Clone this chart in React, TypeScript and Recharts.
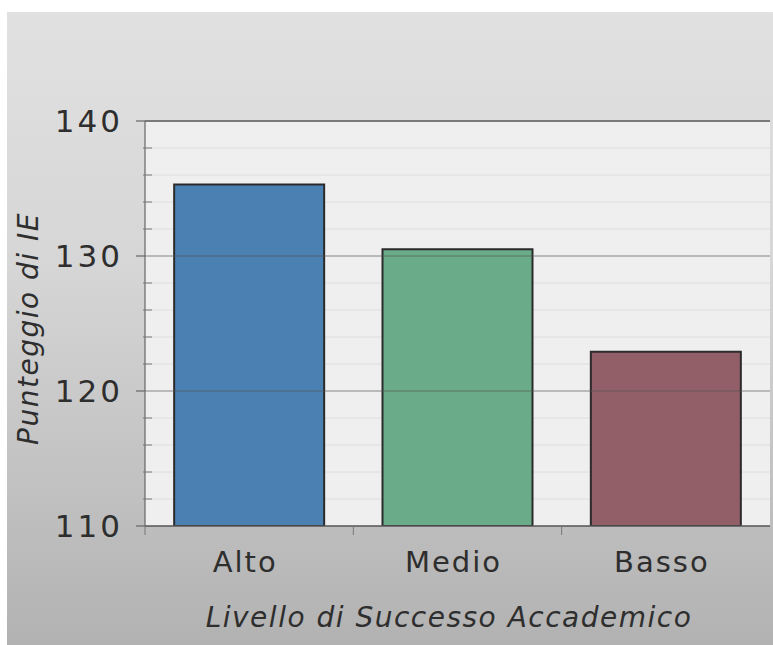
import { BarChart, Bar, XAxis, YAxis, CartesianGrid, ReferenceLine, Cell, Label } from 'recharts';

const categories = ['Alto', 'Medio', 'Basso'];
const scores = [135.3, 130.5, 122.9];
const barColors = ['#4b80b3', '#6aac89', '#925e67'];
const majorTicks = [110, 120, 130, 140];
const minorTicks = [112, 114, 116, 118, 122, 124, 126, 128, 132, 134, 136, 138];
const allTicks = [110, 112, 114, 116, 118, 120, 122, 124, 126, 128, 130, 132, 134, 136, 138, 140];

const data = categories.map((name, i) => ({ name, score: scores[i] }));

const font = '"DejaVu Sans", sans-serif';

function YTick(props: any) {
  const { x, y, payload } = props;
  const major = majorTicks.includes(payload.value);
  if (!major) {
    return <line x1={x - 2} x2={x + 7} y1={y} y2={y} stroke="#777" strokeWidth={1} />;
  }
  return (
    <g>
      <line x1={x - 9} x2={x} y1={y} y2={y} stroke="#666" strokeWidth={1.2} />
      <text
        x={x - 22}
        y={y}
        dy={11}
        textAnchor="end"
        fontSize={31}
        letterSpacing={3}
        fill="#2e2e2e"
        fontFamily={font}
      >
        {payload.value}
      </text>
    </g>
  );
}

function XTick(props: any) {
  const { x, y, payload } = props;
  const start = x - (payload.offset ?? 0);
  return (
    <g>
      <line x1={start} x2={start} y1={y} y2={y + 9} stroke="#777" strokeWidth={1} />
      <text
        x={x - 4}
        y={y + 46}
        textAnchor="middle"
        fontSize={29}
        letterSpacing={2}
        fill="#2e2e2e"
        fontFamily={font}
      >
        {payload.value}
      </text>
    </g>
  );
}

export default function App() {
  return (
    <div style={{ position: 'absolute', left: 0, top: 0, width: 773, height: 645, background: '#fff' }}>
      <div
        style={{
          position: 'absolute',
          left: 7,
          top: 12,
          width: 766,
          height: 633,
          background: 'linear-gradient(to bottom, #e1e1e1 0%, #d6d6d6 40%, #b2b2b2 100%)',
        }}
      />
      <div style={{ position: 'absolute', left: 0, top: 0 }}>
        <BarChart
          width={773}
          height={645}
          data={data}
          margin={{ top: 121, right: 3, bottom: 59, left: 85 }}
          barCategoryGap="14%"
        >
          <CartesianGrid
            vertical={false}
            horizontalValues={minorTicks}
            stroke="#dedede"
            fill="#efefef"
          />
          <XAxis
            dataKey="name"
            height={60}
            tick={<XTick />}
            tickLine={false}
            tickSize={0}
            tickMargin={0}
            axisLine={{ stroke: '#555', strokeWidth: 1.5 }}
          />
          <YAxis
            width={60}
            domain={[110, 140]}
            ticks={allTicks}
            interval={0}
            allowDataOverflow
            tick={<YTick />}
            tickLine={false}
            tickSize={0}
            tickMargin={0}
            axisLine={{ stroke: '#666', strokeWidth: 1.2 }}
          >
            <Label
              value="Punteggio di IE"
              angle={-90}
              position="insideLeft"
              offset={-57}
              dy={5}
              style={{
                fontSize: 28,
                letterSpacing: 1.5,
                fontStyle: 'italic',
                fill: '#2e2e2e',
                fontFamily: font,
                textAnchor: 'middle',
              }}
            />
          </YAxis>
          <Bar dataKey="score" stroke="#2b2b2b" strokeWidth={2} isAnimationActive={false}>
            {data.map((d, i) => (
              <Cell key={d.name} fill={barColors[i]} />
            ))}
          </Bar>
          {[120, 130].map((v) => (
            <ReferenceLine key={v} y={v} stroke="#555" strokeOpacity={0.45} strokeWidth={1.5} />
          ))}
          <ReferenceLine y={140} stroke="#7a7a7a" strokeWidth={2} />
        </BarChart>
      </div>
      <div
        style={{
          position: 'absolute',
          left: 145,
          width: 608,
          top: 601,
          textAlign: 'center',
          fontFamily: font,
          fontStyle: 'italic',
          fontSize: 28,
          letterSpacing: 1.5,
          color: '#2e2e2e',
        }}
      >
        Livello di Successo Accademico
      </div>
    </div>
  );
}
